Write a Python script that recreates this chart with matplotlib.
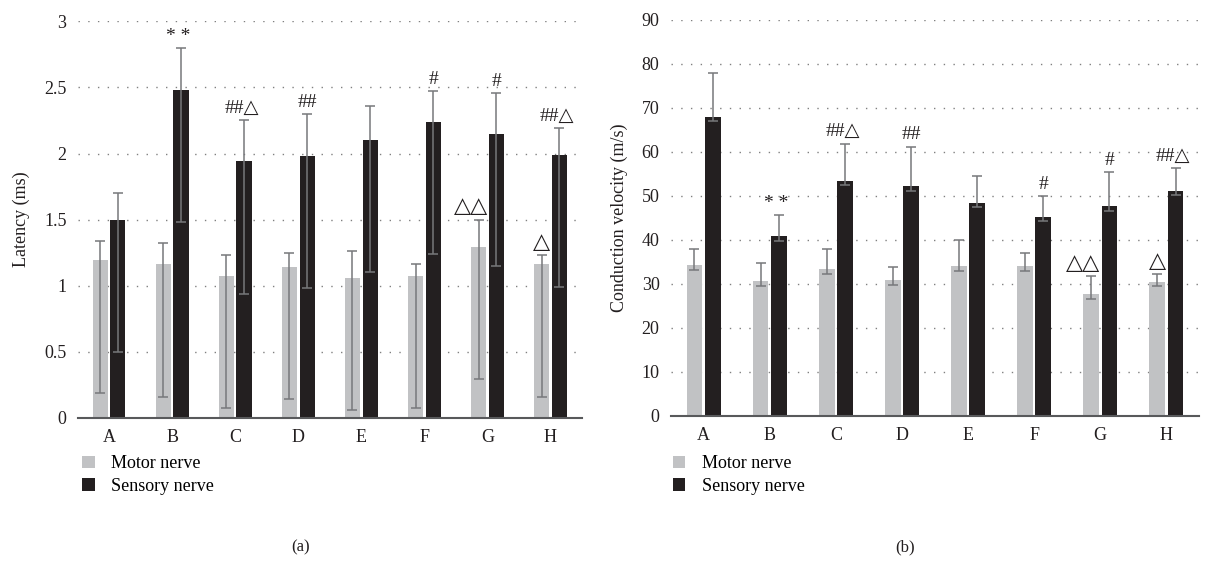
import matplotlib
matplotlib.use("Agg")
import matplotlib.pyplot as plt
import numpy as np
from matplotlib.patches import Patch

FONT = ['Liberation Serif', 'DejaVu Sans']
plt.rcParams['font.family'] = FONT

groups = ['A', 'B', 'C', 'D', 'E', 'F', 'G', 'H']

# (a) Latency (ms)
lat_motor = [1.19, 1.16, 1.07, 1.14, 1.06, 1.07, 1.29, 1.16]
lat_motor_lo = [1.0, 1.0, 1.0, 1.0, 1.0, 1.0, 1.0, 1.0]
lat_motor_hi = [0.15, 0.16, 0.16, 0.11, 0.20, 0.09, 0.21, 0.07]
lat_sens = [1.50, 2.48, 1.94, 1.98, 2.10, 2.24, 2.15, 1.99]
lat_sens_lo = [1.0, 1.0, 1.0, 1.0, 1.0, 1.0, 1.0, 1.0]
lat_sens_hi = [0.20, 0.32, 0.31, 0.32, 0.26, 0.23, 0.31, 0.20]
lat_sens_marks = ['', '* *', '##△', '##', '', '#', '#', '##△']
lat_motor_marks = ['', '', '', '', '', '', '△△', '△']

# (b) Conduction velocity (m/s)
cv_motor = [34.2, 30.6, 33.3, 30.8, 34.0, 34.0, 27.6, 30.4]
cv_motor_lo = [1.0, 1.0, 1.0, 1.0, 1.0, 1.0, 1.0, 1.0]
cv_motor_hi = [3.8, 4.1, 4.7, 3.1, 5.9, 3.0, 4.1, 1.8]
cv_sens = [68.0, 40.8, 53.4, 52.2, 48.4, 45.2, 47.6, 51.1]
cv_sens_lo = [1.0, 1.0, 1.0, 1.0, 1.0, 1.0, 1.0, 1.0]
cv_sens_hi = [10.0, 4.8, 8.5, 9.0, 6.2, 4.8, 7.8, 5.2]
cv_sens_marks = ['', '* *', '##△', '##', '', '#', '#', '##△']
cv_motor_marks = ['', '', '', '', '', '', '△△', '△']

MOTOR_C = '#c1c2c4'
SENS_C = '#231f20'
ERR_C = '#77787b'

fig = plt.figure(figsize=(12.08, 5.71), dpi=100)
axA = fig.add_axes([0.0642, 0.2685, 0.4176, 0.694])
axB = fig.add_axes([0.5552, 0.272, 0.4376, 0.693])

def draw(ax, motor, mlo, mhi, sens, slo, shi, smarks, mmarks, ymax, ystep, ylabel, pad_frac):
    x = np.arange(len(groups))
    w = 0.24
    off = 0.14
    ax.bar(x - off, motor, w, color=MOTOR_C, zorder=2)
    ax.bar(x + off, sens, w, color=SENS_C, zorder=2)
    ek = dict(ecolor=ERR_C, elinewidth=1.1, capsize=3.5, capthick=1.1, fmt='none', zorder=3)
    ax.errorbar(x - off, motor, yerr=[mlo, mhi], **ek)
    ax.errorbar(x + off, sens, yerr=[slo, shi], **ek)
    pad = ymax * pad_frac
    for i in range(len(groups)):
        if smarks[i]:
            dx = -0.04 if len(smarks[i]) > 2 else 0.0
            ax.text(x[i] + off + dx, sens[i] + shi[i] + pad, smarks[i], ha='center', va='bottom',
                    fontsize=14, color='#231f20', family=FONT, zorder=4)
        if mmarks[i]:
            dx = -0.12 if len(mmarks[i]) > 1 else 0.0
            ax.text(x[i] - off + dx, motor[i] + mhi[i] + pad, mmarks[i], ha='center', va='bottom',
                    fontsize=16, color='#231f20', family=['DejaVu Sans'], zorder=4)
    ax.set_xlim(-0.5, len(groups) - 0.5)
    ax.set_ylim(0, ymax)
    ticks = np.arange(0, ymax + ystep / 2, ystep)
    ax.set_yticks(ticks)
    ax.set_yticklabels([('%g' % t) for t in ticks], fontsize=13, color='#231f20')
    ax.set_xticks(x)
    ax.set_xticklabels(groups, fontsize=13, color='#231f20')
    for t in ticks[1:]:
        ax.axhline(t, color='#808080', lw=1.0, ls=(0, (1, 6)), zorder=1)
    for s in ['top', 'right', 'left']:
        ax.spines[s].set_visible(False)
    ax.spines['bottom'].set_color('#58595b')
    ax.spines['bottom'].set_linewidth(1.5)
    ax.tick_params(axis='both', length=0)
    ax.tick_params(axis='x', pad=8)
    ax.tick_params(axis='y', pad=8)
    ax.set_ylabel(ylabel, fontsize=13, color='#231f20', labelpad=10)

draw(axA, lat_motor, lat_motor_lo, lat_motor_hi, lat_sens, lat_sens_lo, lat_sens_hi,
     lat_sens_marks, lat_motor_marks, 3, 0.5, 'Latency (ms)', 0.008)
draw(axB, cv_motor, cv_motor_lo, cv_motor_hi, cv_sens, cv_sens_lo, cv_sens_hi,
     cv_sens_marks, cv_motor_marks, 90, 10, 'Conduction velocity (m/s)', 0.008)

handles = [Patch(facecolor=MOTOR_C, label='Motor nerve'),
           Patch(facecolor=SENS_C, label='Sensory nerve')]
for xa in (0.062, 0.551):
    fig.legend(handles=handles, loc='upper left', bbox_to_anchor=(xa, 0.215), frameon=False,
               fontsize=13, handlelength=0.7, handleheight=0.7, handletextpad=0.9,
               labelspacing=0.3, borderaxespad=0)

fig.text(0.2485, 0.042, '(a)', ha='center', va='center', fontsize=12, color='#231f20')
fig.text(0.749, 0.042, '(b)', ha='center', va='center', fontsize=12, color='#231f20')

fig.savefig('out.png', dpi=100)
